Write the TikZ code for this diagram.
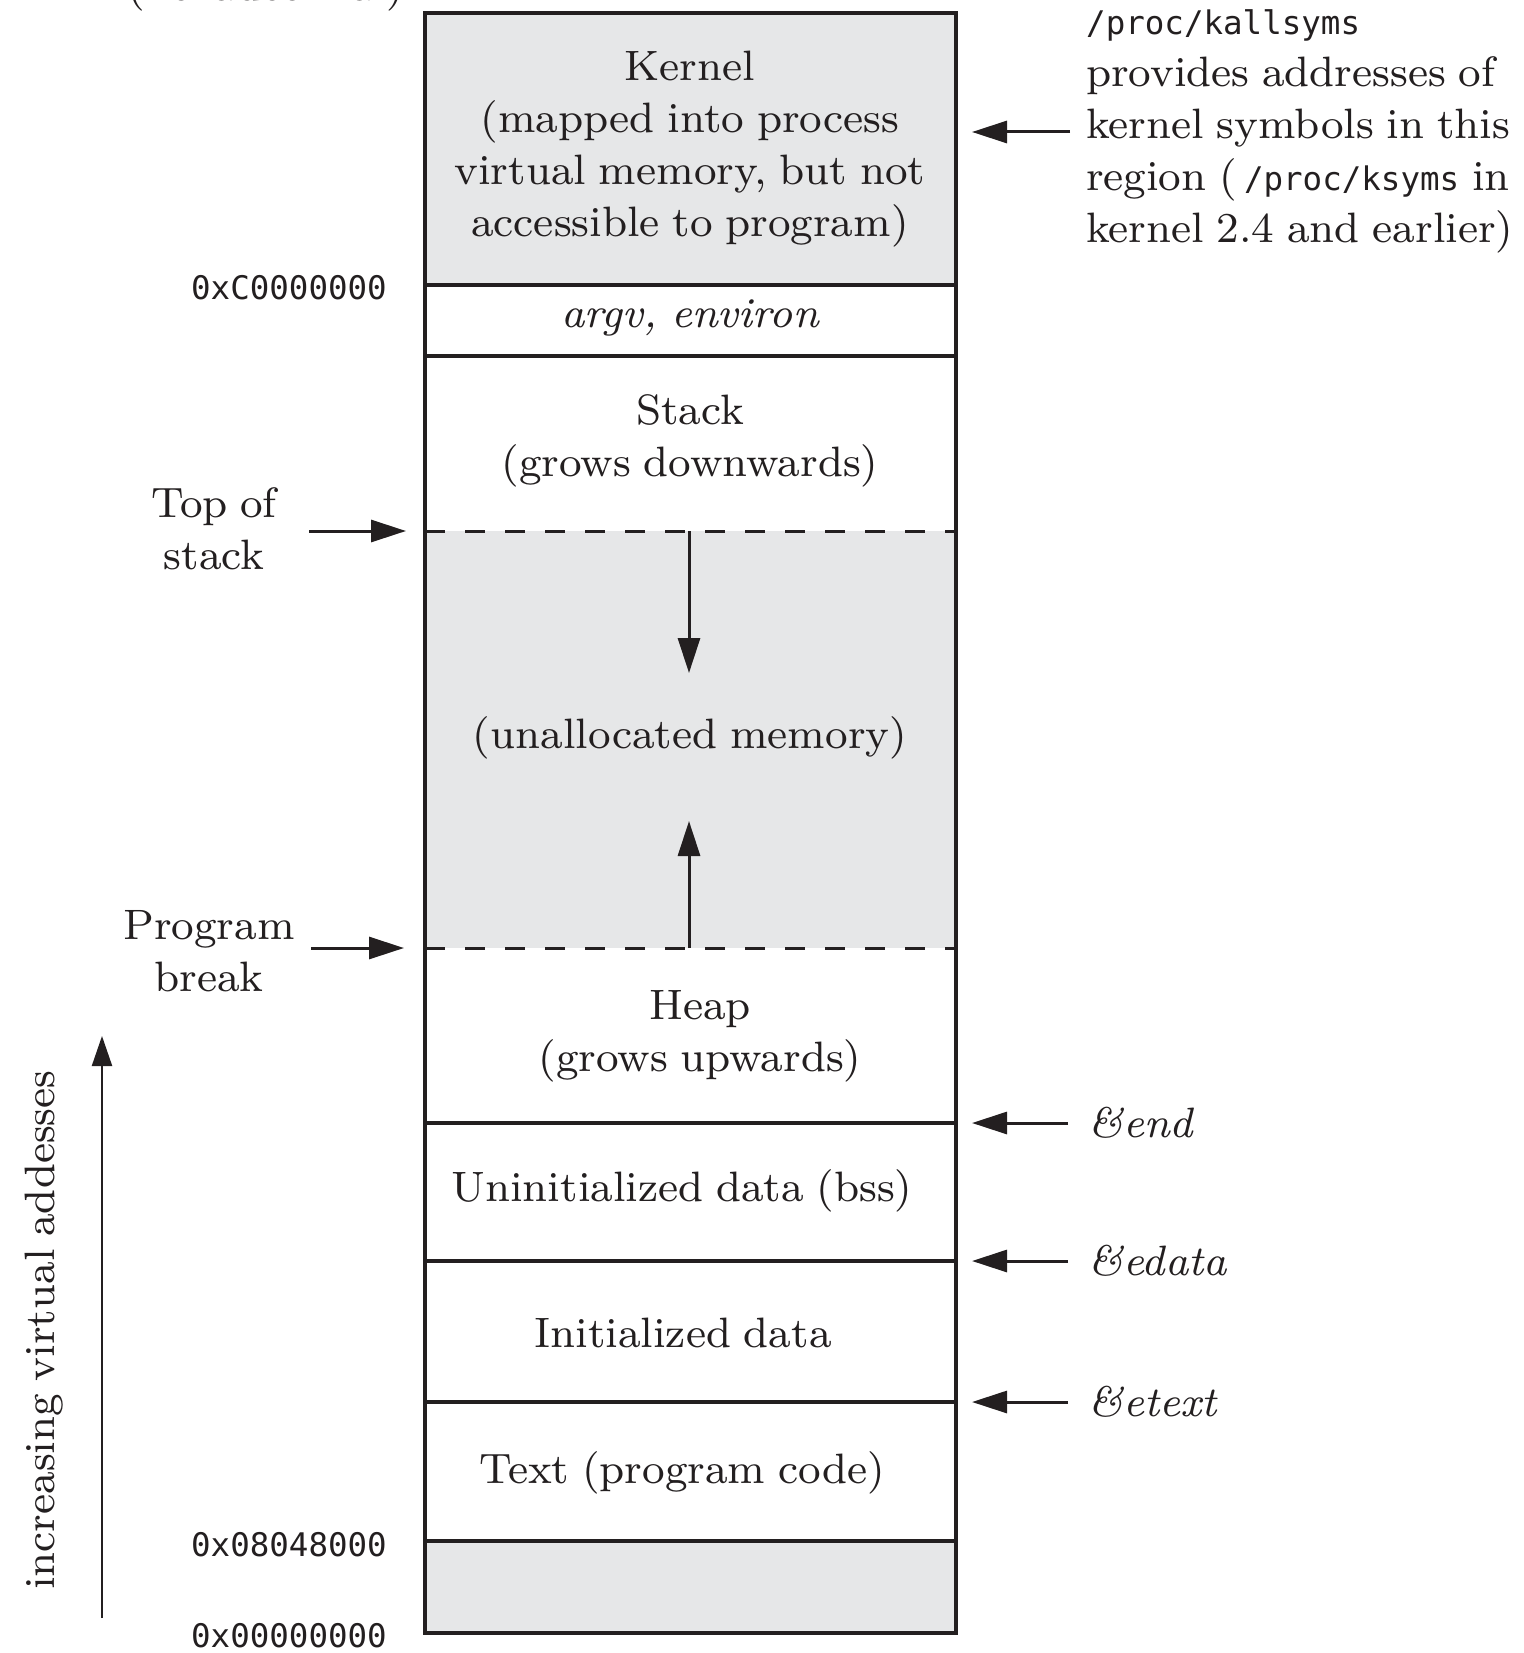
\documentclass[tikz,border=0pt]{standalone}
\usepackage{fontspec}
\setmainfont{lmroman8-regular.otf}[ItalicFont=lmroman8-italic.otf, WordSpace=0.85]
\newfontfamily\monofam{DejaVu Sans Mono}
\usetikzlibrary{arrows.meta}
\definecolor{memgray}{RGB}{230,231,232}
\definecolor{ink}{RGB}{35,31,32}
\begin{document}
\begin{tikzpicture}[x=1pt,y=-1pt,
  every node/.style={text=ink, inner sep=0pt},
  txt/.style={font=\fontsize{42.5}{52}\selectfont, align=center},
  itxt/.style={font=\itshape\fontsize{42.5}{52}\selectfont},
  addr/.style={font=\monofam\fontsize{32.5}{40}\selectfont, anchor=east},
  boxline/.style={draw=ink, line width=3.5pt},
  dashline/.style={draw=ink, line width=3pt, dash pattern=on 20pt off 20pt},
  arr/.style={draw=ink, line width=3pt, -{Triangle[length=35pt,width=22pt]}},
  thinarr/.style={draw=ink, line width=2.2pt, -{Triangle[length=30pt,width=20pt]}},
]
\useasboundingbox (0,0) rectangle (1523,1653);
% fills
\fill[memgray] (425,13) rectangle (956,285);
\fill[memgray] (425,531) rectangle (956,948);
\fill[memgray] (425,1541) rectangle (956,1633);
% region borders
\draw[dashline] (425,531) -- (956,531);
\draw[dashline] (425,948) -- (956,948);
\draw[boxline] (425,285) -- (956,285);
\draw[boxline] (425,356) -- (956,356);
\draw[boxline] (425,1123) -- (956,1123);
\draw[boxline] (425,1261) -- (956,1261);
\draw[boxline] (425,1402) -- (956,1402);
\draw[boxline] (425,1541) -- (956,1541);
\draw[boxline] (425,13) rectangle (956,1633);

% region texts
\node[txt] (kernel) at (690,149) {Kernel\\(mapped into process\\virtual memory, but not\\accessible to program)};
\node[txt, itxt] (argv) at (690,318) {argv, environ};
\node[txt] (stack) at (690,441) {Stack\\(grows downwards)};
\node[txt] (unalloc) at (690,738) {(unallocated memory)};
\node[txt] (heap) at (700,1036) {Heap\\(grows upwards)};
\node[txt] (bss) at (682,1191) {Uninitialized data (bss)};
\node[txt] (init) at (683,1333) {Initialized data};
\node[txt] (textseg) at (682,1473) {Text (program code)};

% growth arrows
\coordinate (tosmid) at (689,531);
\coordinate (tosend) at (689,673);
\coordinate (brkmid) at (689,948);
\coordinate (brkend) at (689,821);
\draw[arr] (tosmid) -- (tosend);
\draw[arr] (brkmid) -- (brkend);

% left labels
\node[txt] (topstack) at (214,529) {Top of\\stack};
\node[txt] (progbrk) at (209,951) {Program\\break};
\coordinate (tosA) at (309,531);
\coordinate (tosB) at (406,531);
\coordinate (brkA) at (311,948);
\coordinate (brkB) at (404,948);
\draw[arr] (tosA) -- (tosB);
\draw[arr] (brkA) -- (brkB);

% addresses
\node[addr] (aC) at (387,288) {0xC0000000};
\node[addr] (a8) at (387,1545) {0x08048000};
\node[addr] (a0) at (387,1636) {0x00000000};
\node[txt, anchor=base] (hex) at (266,1) {(hexadecimal)};

% right labels
\node[txt, anchor=west, align=left] (ksyms) at (1086,131)
  {{\monofam\fontsize{32.5}{52}\selectfont /proc/kallsyms}\\provides addresses of\\kernel symbols in this\\region (\,{\monofam\fontsize{32.5}{52}\selectfont /proc/ksyms} in\\kernel 2.4 and earlier)};
\coordinate (kA) at (1070,132);
\coordinate (kB) at (972,132);
\draw[arr] (kA) -- (kB);

\node[itxt, anchor=west] (lend) at (1088,1123) {\&end};
\node[itxt, anchor=west] (ledata) at (1088,1261) {\&edata};
\node[itxt, anchor=west] (letext) at (1088,1402) {\&etext};
\coordinate (eA) at (1068,1123);
\coordinate (eB) at (972,1123);
\coordinate (dA) at (1068,1261);
\coordinate (dB) at (972,1261);
\coordinate (tA) at (1068,1402);
\coordinate (tB) at (972,1402);
\draw[arr] (eA) -- (eB);
\draw[arr] (dA) -- (dB);
\draw[arr] (tA) -- (tB);

% increasing addresses
\node[txt, rotate=90] (incr) at (44,1330) {increasing virtual addesses};
\coordinate (upA) at (102,1618);
\coordinate (upB) at (102,1036);
\draw[thinarr] (upA) -- (upB);
\end{tikzpicture}
\end{document}
